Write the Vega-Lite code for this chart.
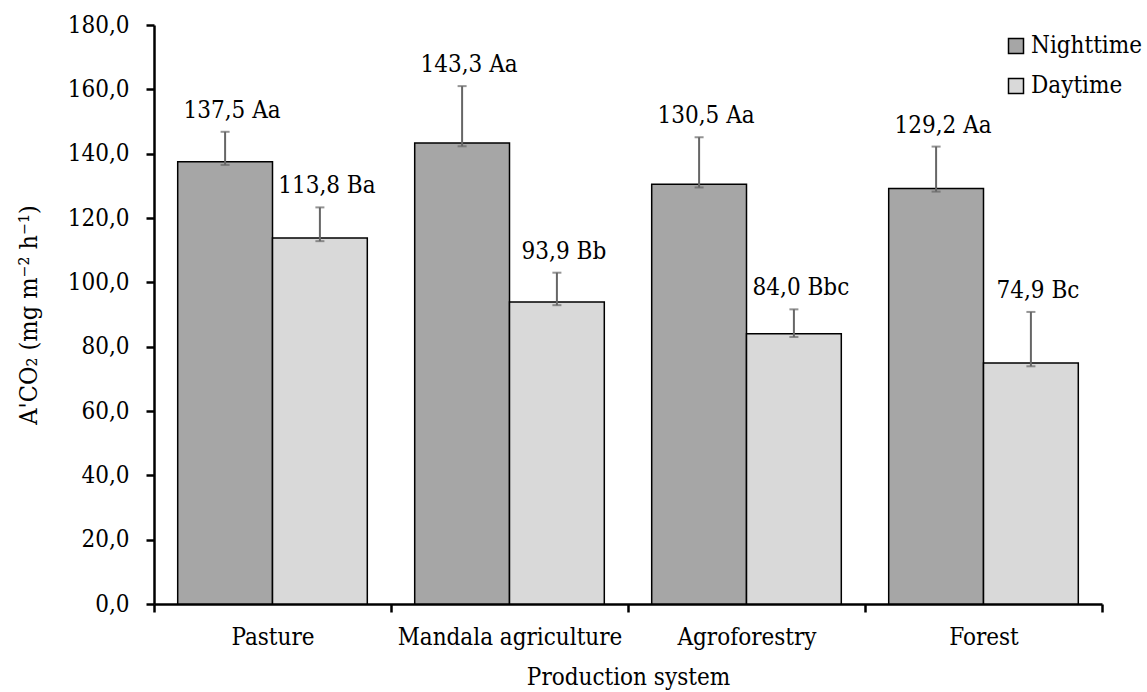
{
  "$schema": "https://vega.github.io/schema/vega-lite/v6.json",
  "width": 948,
  "height": 579,
  "autosize": {"type": "none"},
  "padding": {"left": 154, "top": 25, "right": 45, "bottom": 88},
  "background": "white",
  "config": {
    "locale": {"number": {"decimal": ",", "thousands": ".", "grouping": [3], "currency": ["", ""]}},
    "view": {"stroke": null},
    "axis": {
      "labelFont": "DejaVu Serif Condensed",
      "titleFont": "DejaVu Serif Condensed",
      "labelFontSize": 24,
      "titleFontSize": 24,
      "labelColor": "black",
      "titleColor": "black",
      "titleFontWeight": "normal",
      "domainColor": "black",
      "domainWidth": 2.5,
      "tickColor": "black",
      "tickWidth": 2.5,
      "tickSize": 8,
      "labelLimit": 0,
      "grid": false
    }
  },
  "data": {
    "values": [
      {"system": "Pasture", "period": "Nighttime", "value": 137.5, "high": 146.8, "low": 136.5, "label": "137,5 Aa"},
      {"system": "Pasture", "period": "Daytime", "value": 113.8, "high": 123.3, "low": 112.8, "label": "113,8 Ba"},
      {"system": "Mandala agriculture", "period": "Nighttime", "value": 143.3, "high": 161.0, "low": 142.3, "label": "143,3 Aa"},
      {"system": "Mandala agriculture", "period": "Daytime", "value": 93.9, "high": 103.0, "low": 92.9, "label": "93,9 Bb"},
      {"system": "Agroforestry", "period": "Nighttime", "value": 130.5, "high": 145.1, "low": 129.5, "label": "130,5 Aa"},
      {"system": "Agroforestry", "period": "Daytime", "value": 84.0, "high": 91.6, "low": 83.0, "label": "84,0 Bbc"},
      {"system": "Forest", "period": "Nighttime", "value": 129.2, "high": 142.2, "low": 128.2, "label": "129,2 Aa"},
      {"system": "Forest", "period": "Daytime", "value": 74.9, "high": 90.8, "low": 73.9, "label": "74,9 Bc"}
    ]
  },
  "encoding": {
    "x": {
      "field": "system",
      "type": "nominal",
      "sort": ["Pasture", "Mandala agriculture", "Agroforestry", "Forest"],
      "scale": {"paddingInner": 0, "paddingOuter": 0},
      "axis": {
        "title": "Production system",
        "labelAngle": 0,
        "tickBand": "extent",
        "labelPadding": 13,
        "titlePadding": 16
      }
    },
    "xOffset": {
      "field": "period",
      "type": "nominal",
      "sort": ["Nighttime", "Daytime"],
      "scale": {"paddingInner": 0, "paddingOuter": 0.25}
    }
  },
  "layer": [
    {
      "mark": {"type": "bar", "stroke": "black", "strokeWidth": 1.5},
      "encoding": {
        "y": {
          "field": "value",
          "type": "quantitative",
          "scale": {"domain": [0, 180], "nice": false},
          "axis": {
            "title": "A'CO₂ (mg m⁻² h⁻¹)",
            "titleFontSize": 25,
            "values": [0, 20, 40, 60, 80, 100, 120, 140, 160, 180],
            "format": ".1f",
            "labelPadding": 17,
            "titlePadding": 26
          }
        },
        "color": {
          "field": "period",
          "type": "nominal",
          "sort": ["Nighttime", "Daytime"],
          "scale": {"domain": ["Nighttime", "Daytime"], "range": ["#a6a6a6", "#d9d9d9"]},
          "legend": {
            "title": null,
            "orient": "none",
            "legendX": 850,
            "legendY": 9,
            "symbolType": "square",
            "symbolSize": 225,
            "symbolStrokeColor": "black",
            "symbolStrokeWidth": 1.5,
            "labelFont": "DejaVu Serif Condensed",
            "labelFontSize": 24,
            "labelColor": "black",
            "labelOffset": 3,
            "labelLimit": 0,
            "rowPadding": 16
          }
        }
      }
    },
    {
      "mark": {"type": "rule", "color": "#666666", "strokeWidth": 2},
      "encoding": {
        "y": {"field": "low", "type": "quantitative"},
        "y2": {"field": "high"}
      }
    },
    {
      "mark": {"type": "tick", "color": "#666666", "thickness": 2, "size": 9},
      "encoding": {"y": {"field": "high", "type": "quantitative"}}
    },
    {
      "mark": {"type": "tick", "color": "#666666", "thickness": 2, "size": 9},
      "encoding": {"y": {"field": "low", "type": "quantitative"}}
    },
    {
      "mark": {"type": "text", "font": "DejaVu Serif Condensed", "fontSize": 24, "color": "black", "baseline": "alphabetic", "dy": -14, "dx": 7},
      "encoding": {
        "y": {"field": "high", "type": "quantitative"},
        "text": {"field": "label"}
      }
    }
  ]
}
